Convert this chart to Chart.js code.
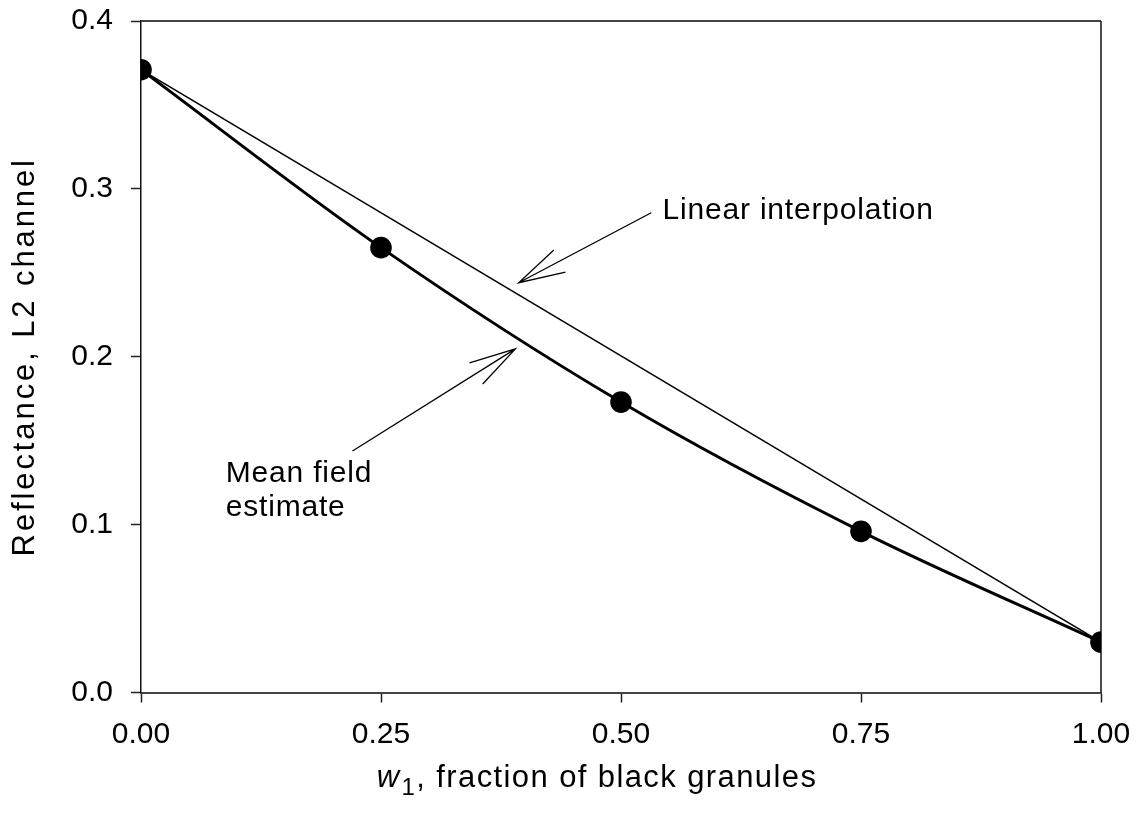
<!DOCTYPE html>
<html>
<head>
<meta charset="utf-8">
<script src="https://cdn.jsdelivr.net/npm/chart.js@4.4.1/dist/chart.umd.min.js"></script>
<style>
  html, body { margin: 0; padding: 0; background: #ffffff; }
  #wrap { width: 1139px; height: 826px; }
</style>
</head>
<body>
<div id="wrap"><canvas id="c" width="1139" height="826"></canvas></div>
<script>
// ---- data ----
const fractions = [0.00, 0.25, 0.50, 0.75, 1.00];
const meanFieldValues = [0.371, 0.265, 0.173, 0.096, 0.030];
const linearEndsX = [0.00, 1.00];
const linearEndsY = [0.371, 0.030];
const xTickLabels = ['0.00', '0.25', '0.50', '0.75', '1.00'];
const yTickLabels = ['0.0', '0.1', '0.2', '0.3', '0.4'];
const yAxisTitle = 'Reflectance, L2 channel';
const xTitleVar = 'w';
const xTitleSub = '1';
const xTitleRest = ', fraction of black granules';
const labelLinear = ['Linear interpolation'];
const labelMeanField = ['Mean field', 'estimate'];

// annotation anchors in data space (tail, tip, text position)
const annotations = [
  { lines: labelLinear, text: [0.5433, 0.2821], tail: [0.5315, 0.2858], tip: [0.3934, 0.2441] },
  { lines: labelMeanField, text: [0.0883, 0.1256], tail: [0.2203, 0.1439], tip: [0.3900, 0.2047] }
];

const FONT = "'Liberation Sans', Arial, Helvetica, sans-serif";

const meanPts = fractions.map((x, i) => ({ x: x, y: meanFieldValues[i] }));
const linPts = linearEndsX.map((x, i) => ({ x: x, y: linearEndsY[i] }));

function setSpacing(ctx, px) {
  if ('letterSpacing' in ctx) ctx.letterSpacing = px + 'px';
}

const framePlugin = {
  id: 'frame',
  beforeDatasetsDraw(chart) {
    const { ctx, chartArea: a } = chart;
    ctx.save();
    ctx.lineWidth = 1.8;
    ctx.strokeStyle = '#444';
    ctx.beginPath();
    ctx.moveTo(a.left, a.top);
    ctx.lineTo(a.right, a.top);
    ctx.stroke();
    ctx.strokeStyle = '#111';
    ctx.lineWidth = 1.5;
    ctx.beginPath();
    ctx.moveTo(a.right, a.top);
    ctx.lineTo(a.right, a.bottom);
    ctx.stroke();
    ctx.restore();
  }
};

const annotationPlugin = {
  id: 'arrows',
  afterDatasetsDraw(chart) {
    const { ctx, scales } = chart;
    const sx = scales.x, sy = scales.y;
    ctx.save();
    ctx.strokeStyle = '#000';
    ctx.fillStyle = '#000';
    ctx.lineWidth = 1.3;
    annotations.forEach(an => {
      const tx = sx.getPixelForValue(an.tail[0]), ty = sy.getPixelForValue(an.tail[1]);
      const px = sx.getPixelForValue(an.tip[0]), py = sy.getPixelForValue(an.tip[1]);
      ctx.beginPath();
      ctx.moveTo(tx, ty);
      ctx.lineTo(px, py);
      const ang = Math.atan2(ty - py, tx - px);
      const len = 48, half = 15 * Math.PI / 180;
      ctx.moveTo(px + len * Math.cos(ang + half), py + len * Math.sin(ang + half));
      ctx.lineTo(px, py);
      ctx.lineTo(px + len * Math.cos(ang - half), py + len * Math.sin(ang - half));
      ctx.stroke();
      ctx.font = '30px ' + FONT;
      setSpacing(ctx, 0.8);
      ctx.textAlign = 'left';
      ctx.textBaseline = 'alphabetic';
      const lx = sx.getPixelForValue(an.text[0]);
      const ly = sy.getPixelForValue(an.text[1]);
      an.lines.forEach((t, i) => ctx.fillText(t, lx, ly + i * 34));
    });
    ctx.restore();
  }
};

const titlesPlugin = {
  id: 'titles',
  afterDraw(chart) {
    const { ctx, chartArea: a } = chart;
    // x title
    ctx.save();
    ctx.fillStyle = '#000';
    ctx.textBaseline = 'alphabetic';
    ctx.textAlign = 'left';
    setSpacing(ctx, 1.4);
    const fMain = '31px ' + FONT, fIt = 'italic 31px ' + FONT, fSub = '24px ' + FONT;
    ctx.font = fIt; const w1 = ctx.measureText(xTitleVar).width;
    ctx.font = fSub; const w2 = ctx.measureText(xTitleSub).width;
    ctx.font = fMain; const w3 = ctx.measureText(xTitleRest).width;
    const total = w1 + 1 + w2 + w3;
    const cx = (a.left + a.right) / 2 - 24;
    let x = cx - total / 2;
    const base = a.bottom + 94;
    ctx.font = fIt; ctx.fillText(xTitleVar, x, base); x += w1 + 1;
    ctx.font = fSub; ctx.fillText(xTitleSub, x, base + 8); x += w2;
    ctx.font = fMain; ctx.fillText(xTitleRest, x, base);
    ctx.restore();
    // y title
    ctx.save();
    ctx.fillStyle = '#000';
    ctx.font = '31px ' + FONT;
    setSpacing(ctx, 2.9);
    ctx.textAlign = 'center';
    ctx.textBaseline = 'alphabetic';
    ctx.translate(34, (a.top + a.bottom) / 2);
    ctx.rotate(-Math.PI / 2);
    ctx.fillText(yAxisTitle, 0, 0);
    ctx.restore();
  }
};

new Chart(document.getElementById('c'), {
  type: 'scatter',
  data: {
    datasets: [
      {
        label: 'Mean field estimate',
        data: meanPts,
        showLine: true,
        borderColor: '#000',
        backgroundColor: '#000',
        borderWidth: 3,
        pointRadius: 10.8,
        pointHoverRadius: 10.8,
        pointBackgroundColor: '#000',
        pointBorderWidth: 0,
        cubicInterpolationMode: 'monotone',
        order: 1
      },
      {
        label: 'Linear interpolation',
        data: linPts,
        showLine: true,
        borderColor: '#000',
        borderWidth: 1.5,
        pointRadius: 0,
        order: 2
      }
    ]
  },
  options: {
    responsive: false,
    animation: false,
    events: [],
    layout: { padding: { top: 21, right: 38, left: 0, bottom: 0 } },
    plugins: {
      legend: { display: false },
      tooltip: { enabled: false }
    },
    scales: {
      x: {
        type: 'linear',
        min: 0, max: 1,
        afterFit: s => { s.height = 133.5; s.paddingLeft = 0; s.paddingRight = 0; },
        afterBuildTicks: s => { s.ticks = xTickLabels.map((t, i) => ({ value: i * 0.25 })); },
        ticks: {
          callback: (v, i) => xTickLabels[i],
          color: '#000',
          font: { family: FONT, size: 30 },
          padding: 14,
          maxRotation: 0,
          autoSkip: false
        },
        border: { display: true, color: '#444', width: 2 },
        grid: { display: true, drawOnChartArea: false, drawTicks: true, tickLength: 10, tickColor: '#222', tickWidth: 1.5 }
      },
      y: {
        type: 'linear',
        min: 0, max: 0.4,
        afterFit: s => { s.width = 141; s.paddingTop = 0; s.paddingBottom = 0; },
        afterBuildTicks: s => { s.ticks = yTickLabels.map((t, i) => ({ value: i * 0.1 })); },
        ticks: {
          callback: (v, i) => yTickLabels[i],
          color: '#000',
          font: { family: FONT, size: 30 },
          padding: 18,
          autoSkip: false
        },
        title: { display: false },
        border: { display: true, color: '#111', width: 1.5 },
        grid: { display: true, drawOnChartArea: false, drawTicks: true, tickLength: 10, tickColor: '#222', tickWidth: 1.5 }
      }
    }
  },
  plugins: [framePlugin, annotationPlugin, titlesPlugin]
});
</script>
</body>
</html>
